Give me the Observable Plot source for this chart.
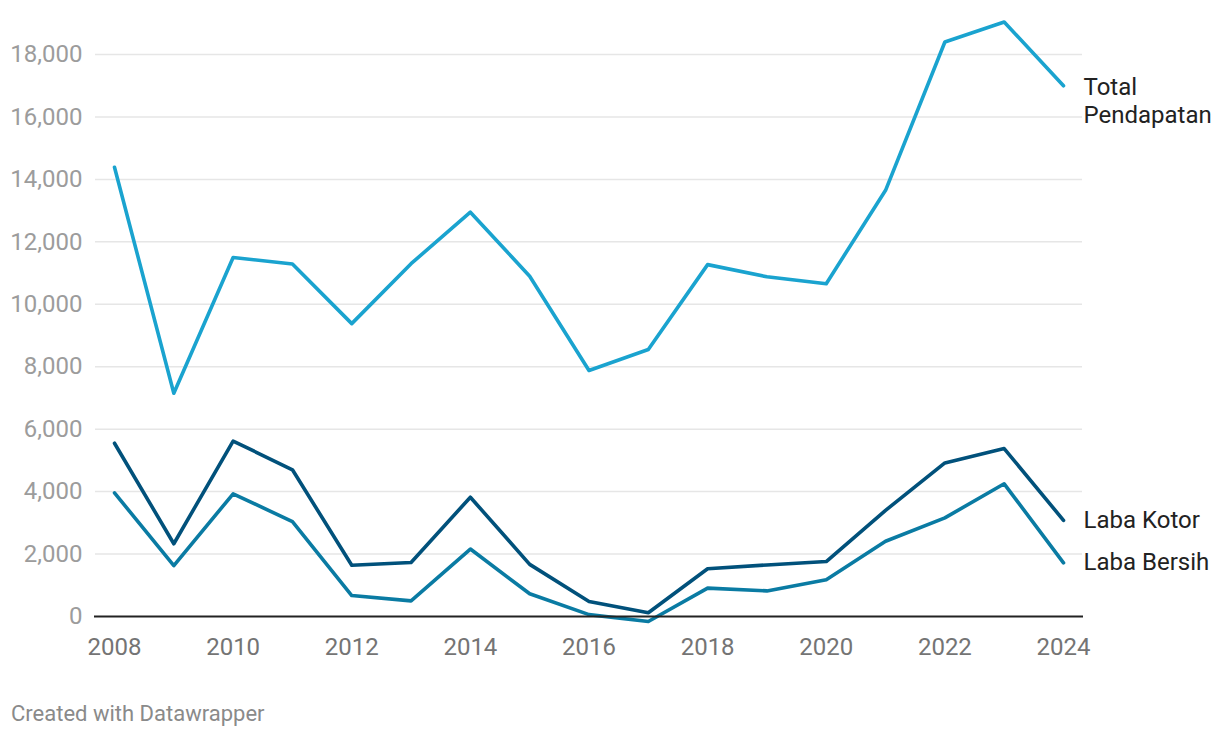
<!DOCTYPE html>
<html>
<head>
<meta charset="utf-8">
<script src="https://cdn.jsdelivr.net/npm/d3@7"></script>
<script src="https://cdn.jsdelivr.net/npm/@observablehq/plot@0.6"></script>
<style>
  html, body { margin: 0; padding: 0; background: #fff; }
  #chart svg { display: block; }
  #caption { font-family: Roboto, sans-serif; font-size: 22px; line-height: 26px; color: #8a8a8a; padding-top: 21px; padding-left: 11px; }
</style>
</head>
<body>
<div id="chart"></div>
<div id="caption">Created with Datawrapper</div>
<script>
const years = [2008, 2009, 2010, 2011, 2012, 2013, 2014, 2015, 2016, 2017, 2018, 2019, 2020, 2021, 2022, 2023, 2024];
const totalPendapatan = [14390, 7150, 11500, 11290, 9380, 11300, 12950, 10900, 7880, 8550, 11270, 10880, 10660, 13650, 18400, 19040, 17000];
const labaKotor = [5550, 2330, 5620, 4700, 1640, 1730, 3820, 1670, 480, 120, 1530, 1650, 1760, 3400, 4920, 5380, 3080];
const labaBersih = [3960, 1630, 3930, 3040, 670, 500, 2160, 730, 60, -160, 910, 820, 1180, 2410, 3160, 4250, 1720];
const seriesNames = ["Total\nPendapatan", "Laba Kotor", "Laba Bersih"];
const seriesColors = ["#1aa3cf", "#01517b", "#0a7ba3"];
const yTicks = [0, 2000, 4000, 6000, 8000, 10000, 12000, 14000, 16000, 18000];
const xTicks = [2008, 2010, 2012, 2014, 2016, 2018, 2020, 2022, 2024];

const seriesValues = [totalPendapatan, labaKotor, labaBersih];
const toRows = (vals) => years.map((year, i) => ({year, value: vals[i]}));
const last = years.length - 1;
const endLabels = seriesValues.map((vals, k) => ({year: years[last], value: vals[last], label: seriesNames[k], k}));

const chart = Plot.plot({
  width: 1220,
  height: 680,
  marginLeft: 114,
  marginRight: 157,
  marginTop: 54,
  marginBottom: 64,
  style: {fontFamily: "Roboto, sans-serif", background: "#fff"},
  x: {domain: [2008, 2024], label: null},
  y: {domain: [0, 18000], label: null},
  marks: [
    Plot.ruleY(yTicks.filter(d => d !== 0), {stroke: "#e6e6e6", strokeWidth: 1.5, insetLeft: -19, insetRight: -19}),
    Plot.axisY({ticks: yTicks, label: null, tickSize: 0, tickPadding: 32, fontSize: 24, color: "#9c9c9c", tickFormat: d3.format(",")}),
    Plot.axisX({ticks: xTicks, label: null, tickSize: 0, tickPadding: 21, fontSize: 24, color: "#747474", tickFormat: d => String(d)}),
    Plot.line(toRows(totalPendapatan), {x: "year", y: "value", stroke: seriesColors[0], strokeWidth: 3.6}),
    Plot.line(toRows(labaKotor), {x: "year", y: "value", stroke: seriesColors[1], strokeWidth: 3.6}),
    Plot.line(toRows(labaBersih), {x: "year", y: "value", stroke: seriesColors[2], strokeWidth: 3.6}),
    Plot.ruleY([0], {stroke: "#222", strokeWidth: 2, insetLeft: -20, insetRight: -20}),
    Plot.text(endLabels.filter(d => d.k === 0), {x: "year", y: "value", text: "label", textAnchor: "start", lineAnchor: "middle", lineHeight: 1.18, dx: 20, dy: 14, fontSize: 24, fill: "#222"}),
    Plot.text(endLabels.filter(d => d.k !== 0), {x: "year", y: "value", text: "label", textAnchor: "start", lineAnchor: "middle", dx: 20, fontSize: 24, fill: "#222"})
  ]
});
document.getElementById("chart").appendChild(chart);
</script>
</body>
</html>
